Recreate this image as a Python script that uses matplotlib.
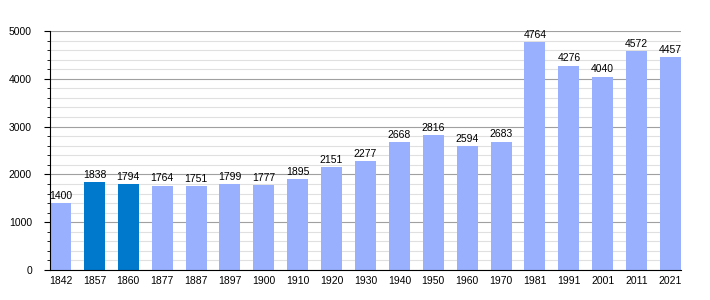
import matplotlib.pyplot as plt
from matplotlib.ticker import MultipleLocator

# population per census year
years = ['1842', '1857', '1860', '1877', '1887', '1897', '1900', '1910', '1920', '1930',
         '1940', '1950', '1960', '1970', '1981', '1991', '2001', '2011', '2021']
population = [1400, 1838, 1794, 1764, 1751, 1799, 1777, 1895, 2151, 2277,
              2668, 2816, 2594, 2683, 4764, 4276, 4040, 4572, 4457]
highlighted = ['1857', '1860']

plt.rcParams['font.family'] = ['Liberation Sans', 'DejaVu Sans']

light = '#99b0ff'
dark = '#0078cc'
colors = [dark if y in highlighted else light for y in years]

fig = plt.figure(figsize=(7.1, 3), dpi=100)
ax = fig.add_axes([50 / 710, 30 / 300, 631 / 710, 239 / 300])

bw = 0.62
x = list(range(len(years)))
bars = ax.bar(x, population, width=bw, color=colors, zorder=3)

for xi, v in zip(x, population):
    ax.text(xi, v + 50, str(v), ha='center', va='bottom', fontsize=7.5, zorder=4)

ax.set_xlim(-bw / 2, len(years) - 1 + bw / 2)
ax.set_ylim(0, 5000)
ax.set_xticks(x)
ax.set_xticklabels(years, fontsize=7.5)
ax.tick_params(axis='x', length=0, pad=4)

ax.yaxis.set_major_locator(MultipleLocator(1000))
ax.yaxis.set_minor_locator(MultipleLocator(200))
ax.tick_params(axis='y', which='major', length=4, labelsize=7.5, pad=9)
ax.tick_params(axis='y', which='minor', length=2)

ax.grid(axis='y', which='major', color='#a0a0a0', linewidth=0.8, zorder=1)
ax.grid(axis='y', which='minor', color='#e0e0e0', linewidth=0.8, zorder=1)

for s in ['top', 'right']:
    ax.spines[s].set_visible(False)
ax.spines['left'].set_zorder(5)
ax.spines['bottom'].set_zorder(5)

fig.savefig('out.png', dpi=100)
